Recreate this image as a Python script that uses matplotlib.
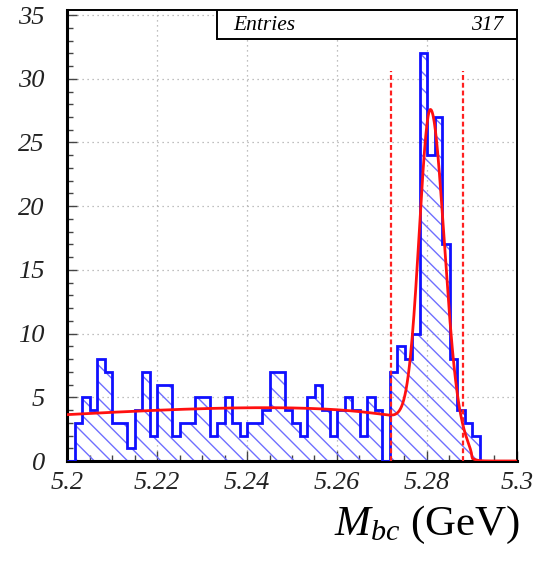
#!/usr/bin/env python3
import numpy as np
import matplotlib
matplotlib.use('Agg')
import matplotlib.pyplot as plt
from matplotlib.patches import Rectangle

# histogram: 60 bins between 5.2 and 5.3 GeV
x_lo, x_hi, n_bins = 5.2, 5.3, 60
counts = [0, 3, 5, 4, 8, 7, 3, 3, 1, 4,
          7, 2, 6, 6, 2, 3, 3, 5, 5, 2,
          3, 5, 3, 2, 3, 3, 4, 7, 7, 4,
          3, 2, 5, 6, 4, 2, 4, 5, 4, 2,
          5, 4, 0, 7, 9, 8, 10, 32, 24, 27,
          17, 8, 4, 3, 2, 0, 0, 0, 0, 0]
n_entries = 317

# fit: ARGUS background + bifurcated gaussian signal
argus_norm, argus_c, argus_end = 9.9, -28.3, 5.29
sig_amp, sig_mean, sig_left, sig_right = 24.8, 5.2808, 0.0025, 0.0030

# signal window
window = [5.272, 5.288]
window_top = 30.6

y_max = 35.4
x_ticks = [5.2, 5.22, 5.24, 5.26, 5.28, 5.3]
x_ticklabels = ['5.2', '5.22', '5.24', '5.26', '5.28', '5.3']
y_ticks = [0, 5, 10, 15, 20, 25, 30, 35]


def fit_func(m):
    z = 1.0 - (m / argus_end) ** 2
    bkg = np.where(z > 0, argus_norm * m * np.sqrt(np.clip(z, 0, None)) * np.exp(argus_c * z), 0.0)
    s = np.where(m < sig_mean, sig_left, sig_right)
    sig = sig_amp * np.exp(-0.5 * ((m - sig_mean) / s) ** 2)
    return bkg + sig


plt.rcParams['hatch.linewidth'] = 1.0
plt.rcParams['mathtext.fontset'] = 'custom'
plt.rcParams['mathtext.it'] = 'Liberation Serif:italic'
plt.rcParams['mathtext.rm'] = 'Liberation Serif'

fig = plt.figure(figsize=(5.35, 5.70), dpi=100)
ax = fig.add_axes([67 / 535, 1 - 461 / 570, 450 / 535, 451 / 570])

edges = np.linspace(x_lo, x_hi, n_bins + 1)
ax.stairs(counts, edges, fill=True, facecolor='none', edgecolor='#6f6fff',
          hatch='\\\\', linewidth=0, zorder=2)
ax.stairs(counts, edges, color='#1010ff', linewidth=2.0, baseline=0, zorder=3)

m = np.linspace(x_lo, x_hi, 800)
ax.plot(m, fit_func(m), color='#ff1010', linewidth=2.0, zorder=4)

for w in window:
    ax.plot([w, w], [0, window_top], color='#ff2020', linewidth=1.6,
            dashes=(2.2, 1.3), zorder=4)

ax.set_xlim(x_lo, x_hi)
ax.set_ylim(0, y_max)
ax.set_xticks(x_ticks)
ax.set_xticklabels(x_ticklabels)
ax.set_yticks(y_ticks)
ax.set_xticks(np.arange(5.2, 5.3001, 0.005), minor=True)
ax.set_yticks(np.arange(0, 36, 1), minor=True)
ax.tick_params(which='both', direction='in', top=False, right=False)
ax.tick_params(which='major', length=7, width=1.0, color='#444444')
ax.tick_params(which='minor', length=4, width=1.0, color='#444444')
ax.tick_params(axis='y', pad=16)
ax.tick_params(axis='x', pad=8)
for lab in ax.get_xticklabels() + ax.get_yticklabels():
    lab.set_fontfamily('Liberation Serif')
    lab.set_fontstyle('italic')
    lab.set_fontsize(19)
    lab.set_color('#222222')

ax.grid(True, which='major', color='#aaaaaa', linestyle=(0, (1, 3)), linewidth=0.9)
ax.set_axisbelow(True)
for side in ['left', 'bottom']:
    ax.spines[side].set_linewidth(2.2)
for side in ['top', 'right']:
    ax.spines[side].set_linewidth(1.4)

# stats box
bx0 = (217 - 67) / 450
by0 = (461 - 39) / 451
ax.add_patch(Rectangle((bx0, by0), 1 - bx0, 1 - by0, transform=ax.transAxes,
                       facecolor='white', edgecolor='black', linewidth=1.4, zorder=5))
ax.text((233 - 67) / 450, (461 - 26) / 451, 'Entries', transform=ax.transAxes,
        ha='left', va='center', fontfamily='Liberation Serif', fontstyle='italic',
        fontsize=15.5, zorder=6)
ax.text((503 - 67) / 450, (461 - 26) / 451, str(n_entries), transform=ax.transAxes,
        ha='right', va='center', fontfamily='Liberation Serif', fontstyle='italic',
        fontsize=15.5, zorder=6)

fig.text(520 / 535, 1 - 535 / 570, r'$M_{bc}$ (GeV)', ha='right', va='baseline',
         fontfamily='Liberation Serif', fontsize=31)

fig.savefig('out.png', dpi=100)
